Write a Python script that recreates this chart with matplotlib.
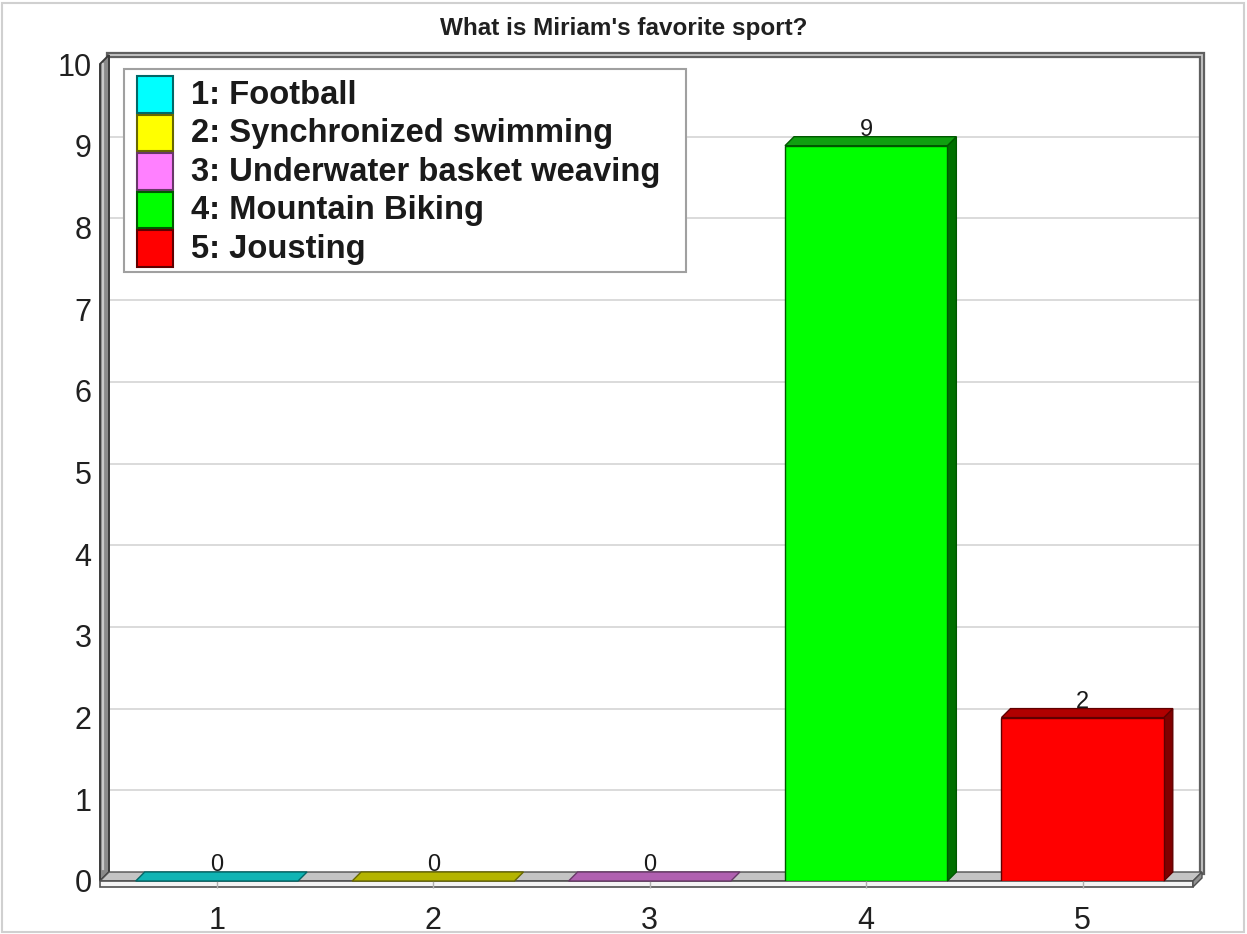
import matplotlib.pyplot as plt
from matplotlib.patches import Polygon, Rectangle

# survey answers
categories = [1, 2, 3, 4, 5]
sports = ["Football", "Synchronized swimming", "Underwater basket weaving",
          "Mountain Biking", "Jousting"]
votes = [0, 0, 0, 9, 2]
face_colors = ["#00ffff", "#ffff00", "#ff80ff", "#00ff00", "#ff0000"]
top_colors = ["#10b4b4", "#b4b400", "#b060b0", "#10a010", "#b00000"]
side_colors = ["#008080", "#808000", "#804080", "#007000", "#800000"]
edge_colors = ["#006868", "#686800", "#683868", "#005800", "#600000"]
y_ticks = list(range(11))

plt.rcParams["font.family"] = ["Liberation Sans", "DejaVu Sans"]

W, H = 1247, 934
fig = plt.figure(figsize=(W / 100, H / 100), dpi=100)
ax = fig.add_axes([100 / W, (H - 881) / H, 1093 / W, 817 / H])
xmin, xmax, ymax = 0.46, 5.51, 10
ax.set_xlim(xmin, xmax)
ax.set_ylim(0, ymax)
for s in ax.spines.values():
    s.set_visible(False)
ax.patch.set_visible(False)

# depth of the fake 3d box, in pixels -> data units
depth_px = 9
DX = depth_px * (xmax - xmin) / 1093
DY = depth_px * ymax / 817
PX_Y = ymax / 817          # one pixel in y data units

def poly(pts, fc, ec="#303030", lw=1.0, z=1):
    ax.add_patch(Polygon(pts, closed=True, fc=fc, ec=ec, lw=lw, zorder=z,
                         clip_on=False))

# back wall with grid lines
ax.add_patch(Rectangle((xmin + DX, DY), xmax - xmin, ymax, fc="white",
                       ec="none", zorder=0, clip_on=False))
for t in y_ticks[1:-1]:
    ax.plot([xmin + DX, xmax + DX], [t + DY, t + DY], color="#d4d4d4",
            lw=1.2, zorder=0.5, clip_on=False)
frame_x = [xmin + DX, xmax + DX, xmax + DX]
frame_y = [ymax + DY, ymax + DY, DY]
ax.plot(frame_x, frame_y, color="#606060", lw=4.5, zorder=0.8,
        solid_joinstyle="miter", clip_on=False)
ax.plot(frame_x, frame_y, color="#c8c8c8", lw=1.3, zorder=0.9,
        solid_joinstyle="miter", clip_on=False)

# left wall
poly([(xmin, 0), (xmin + DX, DY), (xmin + DX, ymax + DY), (xmin, ymax)],
     "#8a8a8a", ec="#3a3a3a", lw=1.4, z=1)
ax.plot([xmin + DX * 0.3] * 2, [0.15, ymax], color="#c8c8c8", lw=1.6,
        zorder=1.1, clip_on=False)

# floor: top face, front edge, right end
floor_t = 6 * PX_Y
poly([(xmin, 0), (xmax, 0), (xmax + DX, DY), (xmin + DX, DY)],
     "#c4c4c4", ec="#505050", lw=1.0, z=1.2)
poly([(xmin, 0), (xmax, 0), (xmax, -floor_t), (xmin, -floor_t)],
     "#f4f4f4", ec="#505050", lw=1.2, z=1.2)
poly([(xmax, 0), (xmax + DX, DY), (xmax + DX, DY - floor_t),
      (xmax, -floor_t)], "#909090", ec="#505050", lw=1.0, z=1.2)

# bars
bw = 0.75
for c, v, fc, tc, sc, ec in zip(categories, votes, face_colors, top_colors,
                                side_colors, edge_colors):
    x0, x1 = c - bw / 2, c + bw / 2
    if v > 0:
        poly([(x1, 0), (x1 + DX, DY), (x1 + DX, v + DY), (x1, v)], sc,
             ec=ec, lw=1.0, z=2)
        ax.add_patch(Rectangle((x0, 0), bw, v, fc=fc, ec=ec, lw=1.0,
                               zorder=2.1))
    poly([(x0, v), (x1, v), (x1 + DX, v + DY), (x0 + DX, v + DY)], tc,
         ec=ec, lw=1.0, z=2.2)
    ax.text(c, v + DY * 0.55, str(v), ha="center", va="bottom",
            fontsize=17, color="#1a1a1a", zorder=3)

ax.set_xticks(categories)
ax.set_xticklabels([str(c) for c in categories])
ax.set_yticks(y_ticks)
ax.tick_params(axis="x", length=5, width=1, color="#b0b0b0", pad=13,
               labelsize=22, labelcolor="#202020", direction="out")
ax.tick_params(axis="y", length=0, pad=6, labelsize=22,
               labelcolor="#202020")

fig.text(624 / W, 1 - 28 / H, "What is Miriam's favorite sport?",
         ha="center", va="center", fontsize=17.5, fontweight="bold",
         color="#202020")

# legend box
lx0, ly0, lx1, ly1 = 124, 69, 686, 272
fig.patches.append(Rectangle((lx0 / W, 1 - ly1 / H), (lx1 - lx0) / W,
                             (ly1 - ly0) / H, transform=fig.transFigure,
                             fc="white", ec="#a0a0a0", lw=1.5, zorder=5))
row_h = 38.5
for i, (c, name, fc, ec) in enumerate(zip(categories, sports, face_colors,
                                          edge_colors)):
    top = 75 + i * row_h
    fig.patches.append(Rectangle((137 / W, 1 - (top + row_h - 1) / H),
                                 36 / W, (row_h - 2) / H,
                                 transform=fig.transFigure,
                                 fc=fc, ec=ec, lw=1.5, zorder=6))
    fig.text(191 / W, 1 - (top + row_h / 2 + 1) / H, f"{c}: {name}",
             ha="left", va="center", fontsize=23.6, fontweight="bold",
             color="#1a1a1a", zorder=7)

# thin outer border
fig.patches.append(Rectangle((2 / W, 2 / H), (W - 5) / W, (H - 5) / H,
                             transform=fig.transFigure, fc="none",
                             ec="#d0d0d0", lw=1.5))

fig.savefig("out.png", dpi=100)
